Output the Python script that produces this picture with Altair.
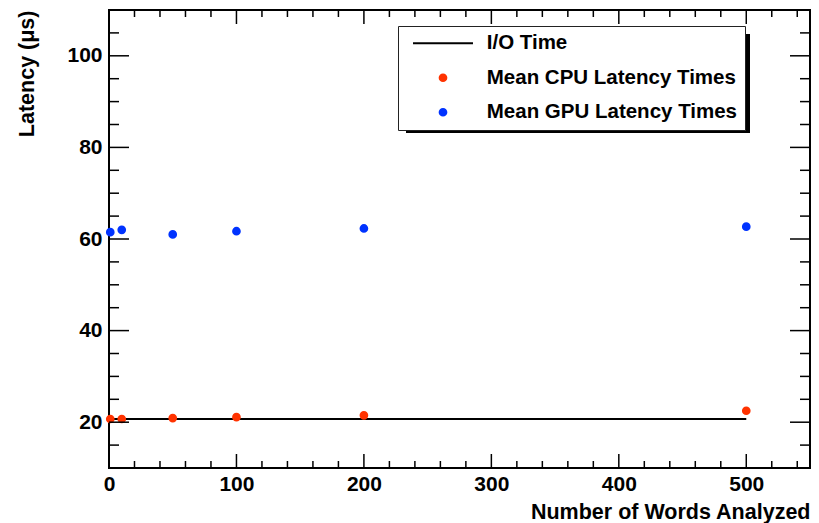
import altair as alt
import pandas as pd

# ---------------- data ----------------
words = [1, 10, 50, 100, 200, 500]
cpu_latency = [20.7, 20.7, 20.9, 21.1, 21.5, 22.5]
gpu_latency = [61.5, 62.0, 61.0, 61.7, 62.3, 62.7]
io_time = [20.7, 20.7, 20.7, 20.7, 20.7, 20.7]

series_names = ["I/O Time", "Mean CPU Latency Times", "Mean GPU Latency Times"]
series_colors = ["black", "#ff3300", "#0033ff"]

x_major = [0, 100, 200, 300, 400, 500]
x_minor = [20, 40, 60, 80, 120, 140, 160, 180, 220, 240, 260, 280,
           320, 340, 360, 380, 420, 440, 460, 480, 520, 540]
y_major = [20, 40, 60, 80, 100]
y_minor = [15, 25, 30, 35, 45, 50, 55, 65, 70, 75, 85, 90, 95, 105]

# ---------------- style ----------------
FONT = "Liberation Sans"
W, H = 701, 458
LINE_SYMBOL = "M-8.94,0H8.94"

xscale = alt.Scale(domain=[0, 550], nice=False, zero=False)
yscale = alt.Scale(domain=[10, 110], nice=False, zero=False)

pts = pd.DataFrame({
    "words": words + words,
    "latency": cpu_latency + gpu_latency,
    "series": [series_names[1]] * len(words) + [series_names[2]] * len(words),
})
io_df = pd.DataFrame({"words": words, "io": io_time})

x_axis = alt.Axis(
    values=x_major, ticks=False, tickSize=0, domain=False, grid=False,
    labelFont=FONT, labelFontSize=21, labelFontWeight="bold", labelColor="black",
    labelPadding=5, labelFlush=False, labelOverlap=False,
    title="Number of Words Analyzed", titleFont=FONT, titleFontSize=21.5,
    titleFontWeight="bold", titleColor="black",
    titleX=W, titleY=50, titleAlign="right", titleBaseline="alphabetic",
)
y_axis = alt.Axis(
    values=y_major, ticks=False, tickSize=0, domain=False, grid=False,
    labelFont=FONT, labelFontSize=21, labelFontWeight="bold", labelColor="black",
    labelPadding=7, labelOverlap=False,
    title="Latency (μs)", titleFont=FONT, titleFontSize=21.5,
    titleFontWeight="bold", titleColor="black",
    titleAngle=270, titleX=-75.7, titleY=0, titleAlign="right",
    titleBaseline="alphabetic",
)

legend = alt.Legend(
    orient="none", legendX=289, legendY=16, title=None,
    fillColor="white", strokeColor="#222222", padding=7, rowPadding=13.5,
    labelFont=FONT, labelFontSize=20.5, labelFontWeight="bold", labelColor="black",
    labelLimit=500,
    symbolSize=45, symbolStrokeWidth=2, symbolOpacity=1,
    symbolOffset=27.75, labelOffset=33.5,
)

color_scale = alt.Scale(domain=series_names, range=series_colors)
shape_scale = alt.Scale(domain=series_names, range=[LINE_SYMBOL, "circle", "circle"])

X = alt.X("words:Q", scale=xscale, axis=x_axis, title="Number of Words Analyzed")

points = alt.Chart(pts).mark_point(filled=True, size=45, strokeWidth=2, opacity=1).encode(
    x=X,
    y=alt.Y("latency:Q", scale=yscale, axis=y_axis, title="Latency (μs)"),
    fill=alt.Fill("series:N", scale=color_scale, legend=legend),
    stroke=alt.Stroke("series:N", scale=color_scale, legend=legend),
    shape=alt.Shape("series:N", scale=shape_scale, legend=legend),
)

io_line = alt.Chart(io_df).mark_line(color="black", strokeWidth=2).encode(
    x=X,
    y=alt.Y("io:Q", scale=yscale, axis=y_axis, title="Latency (μs)"),
)

# legend shadow (decoration)
shadow = alt.Chart(pd.DataFrame({"k": [0]})).mark_rect(color="black").encode(
    x=alt.value(297), x2=alt.value(641), y=alt.value(24), y2=alt.value(123)
)


def tick_layer(values, orient, length):
    df = pd.DataFrame({"v": values})
    base = alt.Chart(df).mark_rule(color="black", strokeWidth=1.5)
    if orient == "bottom":
        return base.encode(x=alt.X("v:Q", scale=xscale, axis=x_axis, title="Number of Words Analyzed"),
                           y=alt.value(H), y2=alt.value(H - length))
    if orient == "top":
        return base.encode(x=alt.X("v:Q", scale=xscale, axis=x_axis, title="Number of Words Analyzed"),
                           y=alt.value(0), y2=alt.value(length))
    if orient == "left":
        return base.encode(y=alt.Y("v:Q", scale=yscale, axis=y_axis, title="Latency (μs)"),
                           x=alt.value(0), x2=alt.value(length))
    return base.encode(y=alt.Y("v:Q", scale=yscale, axis=y_axis, title="Latency (μs)"),
                       x=alt.value(W), x2=alt.value(W - length))


ticks = [
    tick_layer(x_major, "bottom", 14), tick_layer(x_minor, "bottom", 7),
    tick_layer(x_major, "top", 14), tick_layer(x_minor, "top", 7),
    tick_layer(y_major, "left", 20), tick_layer(y_minor, "left", 10),
    tick_layer(y_major, "right", 20), tick_layer(y_minor, "right", 10),
]

chart = alt.layer(shadow, io_line, points, *ticks).properties(
    width=W, height=H,
    autosize=alt.AutoSizeParams(type="none"),
    padding={"left": 109, "top": 10, "right": 9, "bottom": 55},
    background="white",
).configure_view(stroke="black", strokeWidth=2)

chart.save("out.html", embed_options={"renderer": "svg", "actions": False})
